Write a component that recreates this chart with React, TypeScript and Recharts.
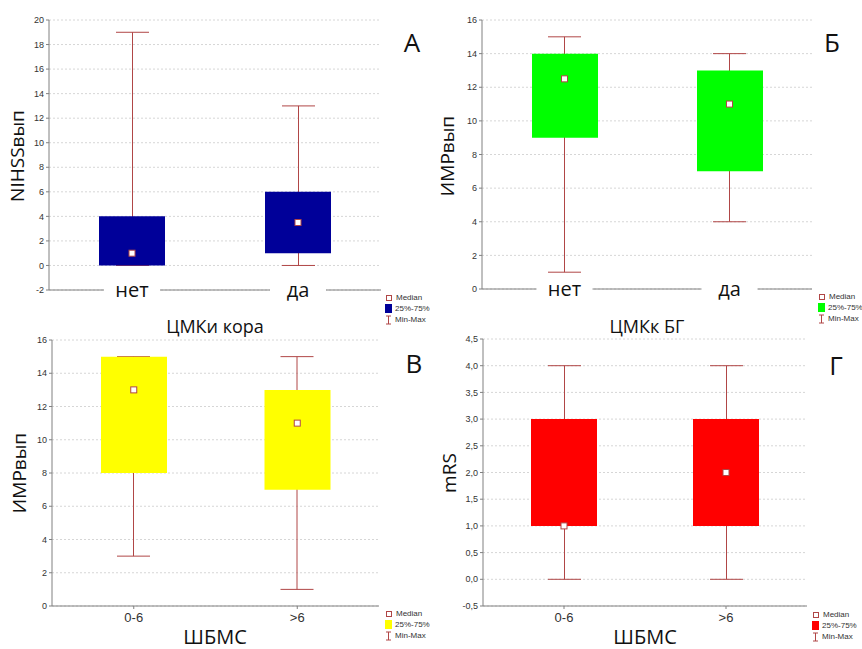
import { Bar, CartesianGrid, ComposedChart, Scatter, XAxis, YAxis } from "recharts";

// А: NIHSSвып по ЦМКи кора
const catsA = ["нет", "да"];
const minA = [0, 0];
const q1A = [0, 1];
const medA = [1, 3.5];
const q3A = [4, 6];
const maxA = [19, 13];
const ticksA = [-2, 0, 2, 4, 6, 8, 10, 12, 14, 16, 18, 20];

// Б: ИМРвып по ЦМКк БГ
const catsB = ["нет", "да"];
const minB = [1, 4];
const q1B = [9, 7];
const medB = [12.5, 11];
const q3B = [14, 13];
const maxB = [15, 14];
const ticksB = [0, 2, 4, 6, 8, 10, 12, 14, 16];

// В: ИМРвып по ШБМС
const catsV = ["0-6", ">6"];
const minV = [3, 1];
const q1V = [8, 7];
const medV = [13, 11];
const q3V = [15, 13];
const maxV = [15, 15];
const ticksV = [0, 2, 4, 6, 8, 10, 12, 14, 16];

// Г: mRS по ШБМС
const catsG = ["0-6", ">6"];
const minG = [0, 0];
const q1G = [1, 1];
const medG = [1, 2];
const q3G = [3, 3];
const maxG = [4, 4];
const ticksG = [-0.5, 0, 0.5, 1, 1.5, 2, 2.5, 3, 3.5, 4, 4.5];

const WHISK = "#b04646";
const FRAME = "#808080";
const FONT = "'Open Sans', sans-serif";
const SMALL = "'Liberation Sans', Arial, sans-serif";

function Whisker(p: any) {
  const cx = p.x + p.width / 2;
  const top = Math.min(p.y, p.y + p.height);
  const bot = Math.max(p.y, p.y + p.height);
  return (
    <g stroke={WHISK} strokeWidth={1}>
      <line x1={cx} x2={cx} y1={top} y2={bot} />
      <line x1={p.x} x2={p.x + p.width} y1={top} y2={top} />
      <line x1={p.x} x2={p.x + p.width} y1={bot} y2={bot} />
    </g>
  );
}

function MedianDot(p: any) {
  return <rect x={p.cx - 3} y={p.cy - 3} width={6} height={6} fill="#fff" stroke={WHISK} strokeWidth={1} />;
}

/** Крупная подпись категории поверх оси, с разрывом линии. */
function BigTick({ x, y, payload }: any) {
  return (
    <g transform={`translate(${x},${y})`}>
      <rect x={-28} y={-4} width={56} height={8} fill="#fff" />
      <text x={0} y={7} textAnchor="middle" fontSize={20} fontFamily={FONT} fill="#111">
        {payload.value}
      </text>
    </g>
  );
}

function StatLegend({ color, left, top }: { color: string; left: number; top: number }) {
  const row = { display: "flex", alignItems: "center", height: 11, gap: 3 } as const;
  return (
    <div style={{ position: "absolute", left, top, fontFamily: SMALL, fontSize: 8, color: "#333", lineHeight: "11px" }}>
      <div style={row}>
        <span style={{ width: 4, height: 4, border: `1px solid ${WHISK}`, margin: "0 1px" }} />
        Median
      </div>
      <div style={row}>
        <span style={{ width: 7, height: 9, background: color }} />
        25%-75%
      </div>
      <div style={row}>
        <svg width={7} height={10}>
          <g stroke={WHISK} strokeWidth={1}>
            <line x1={3.5} x2={3.5} y1={1} y2={9} />
            <line x1={1} x2={6} y1={1} y2={1} />
            <line x1={1} x2={6} y1={9} y2={9} />
          </g>
        </svg>
        Min-Max
      </div>
    </div>
  );
}

type PanelProps = {
  cats: string[];
  mins: number[];
  q1s: number[];
  meds: number[];
  q3s: number[];
  maxs: number[];
  ticks: number[];
  color: string;
  left: number;
  top: number;
  width: number;
  height: number;
  margin: { top: number; right: number; left: number; bottom: number };
  xHeight: number;
  big: boolean;
  comma?: boolean;
};

function Panel(props: PanelProps) {
  const { cats, mins, q1s, meds, q3s, maxs, ticks, color, big, comma } = props;
  const data = cats.map((c, i) => ({
    cat: c,
    box: [q1s[i], q3s[i]],
    whisk: [mins[i], maxs[i]],
    med: meds[i],
  }));
  const domain = [ticks[0], ticks[ticks.length - 1]];
  const fmt = (v: number) => (comma ? v.toFixed(1).replace(".", ",") : String(v));
  return (
    <div style={{ position: "absolute", left: props.left, top: props.top }}>
      <ComposedChart width={props.width} height={props.height} data={data} margin={props.margin}>
        <CartesianGrid vertical={false} xAxisId="b" yAxisId="l" stroke="#d6d6d6" strokeDasharray="2 2" />
        <XAxis
          xAxisId="b"
          dataKey="cat"
          height={props.xHeight}
          stroke={FRAME}
          tickSize={big ? 0 : 3}
          tickMargin={big ? 0 : 4}
          tick={big ? <BigTick /> : { fill: "#333", fontSize: 13, fontFamily: SMALL }}
        />
        <XAxis xAxisId="t" dataKey="cat" orientation="top" height={0} stroke={FRAME} tickSize={3} tick={false} />
        <YAxis
          yAxisId="l"
          type="number"
          domain={domain}
          ticks={ticks}
          allowDataOverflow
          width={40}
          stroke={FRAME}
          tickSize={3}
          tickFormatter={fmt}
          tick={{ fill: "#333", fontSize: 9, fontFamily: SMALL }}
        />
        <YAxis
          yAxisId="r"
          orientation="right"
          type="number"
          domain={domain}
          ticks={ticks}
          allowDataOverflow
          width={0}
          stroke={FRAME}
          tickSize={3}
          tick={false}
        />
        <Bar xAxisId="t" yAxisId="l" dataKey="whisk" barSize={33} shape={<Whisker />} isAnimationActive={false} />
        <Bar xAxisId="b" yAxisId="l" dataKey="box" barSize={66} fill={color} isAnimationActive={false} />
        <Scatter xAxisId="b" yAxisId="l" dataKey="med" shape={<MedianDot />} isAnimationActive={false} />
      </ComposedChart>
    </div>
  );
}

const titleStyle = { position: "absolute", fontFamily: FONT, color: "#111", whiteSpace: "nowrap", lineHeight: 1 } as const;

function YTitle({ text, x, y }: { text: string; x: number; y: number }) {
  return (
    <div style={{ ...titleStyle, left: x, top: y, fontSize: 19, transform: "translate(-50%,-50%) rotate(-90deg)" }}>
      {text}
    </div>
  );
}

function Title({ text, x, y, size }: { text: string; x: number; y: number; size: number }) {
  return <div style={{ ...titleStyle, left: x, top: y, fontSize: size, transform: "translate(-50%,-50%)" }}>{text}</div>;
}

export default function App() {
  return (
    <div style={{ position: "absolute", left: 0, top: 0, width: 862, height: 649, background: "#fff", overflow: "hidden" }}>
      <Panel
        cats={catsA} mins={minA} q1s={q1A} meds={medA} q3s={q3A} maxs={maxA} ticks={ticksA}
        color="#000099" left={0} top={0} width={430} height={320}
        margin={{ top: 20, right: 49, left: 9, bottom: 0 }} xHeight={30} big
      />
      <Panel
        cats={catsB} mins={minB} q1s={q1B} meds={medB} q3s={q3B} maxs={maxB} ticks={ticksB}
        color="#00ff00" left={430} top={0} width={432} height={320}
        margin={{ top: 20, right: 50, left: 12, bottom: 0 }} xHeight={31} big
      />
      <Panel
        cats={catsV} mins={minV} q1s={q1V} meds={medV} q3s={q3V} maxs={maxV} ticks={ticksV}
        color="#ffff00" left={0} top={320} width={430} height={329}
        margin={{ top: 20, right: 51, left: 12, bottom: 0 }} xHeight={43} big={false}
      />
      <Panel
        cats={catsG} mins={minG} q1s={q1G} meds={medG} q3s={q3G} maxs={maxG} ticks={ticksG}
        color="#ff0000" left={430} top={320} width={432} height={329}
        margin={{ top: 19, right: 55, left: 13, bottom: 0 }} xHeight={43} big={false} comma
      />

      <YTitle text="NIHSSвып" x={17} y={156} />
      <YTitle text="ИМРвып" x={447} y={156} />
      <YTitle text="ИМРвып" x={19} y={473} />
      <YTitle text="mRS" x={449} y={473} />

      <Title text="ЦМКи кора" x={215} y={326} size={18} />
      <Title text="ЦМКк БГ" x={647} y={326} size={18} />
      <Title text="ШБМС" x={215} y={637} size={20} />
      <Title text="ШБМС" x={645} y={637} size={20} />

      <Title text="А" x={412} y={42} size={26} />
      <Title text="Б" x={832} y={42} size={26} />
      <Title text="В" x={414} y={363} size={26} />
      <Title text="Г" x={836} y={365} size={26} />

      <StatLegend color="#000099" left={385} top={292} />
      <StatLegend color="#00ff00" left={818} top={291} />
      <StatLegend color="#ffff00" left={385} top={608} />
      <StatLegend color="#ff0000" left={812} top={609} />
    </div>
  );
}
